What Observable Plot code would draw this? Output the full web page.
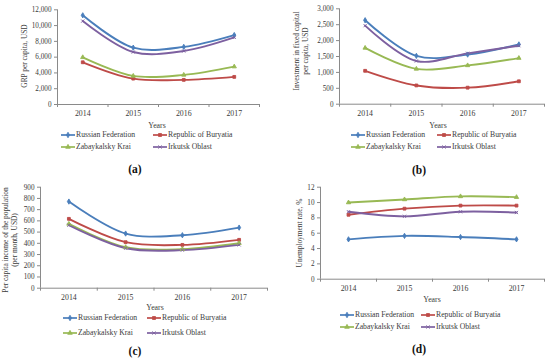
<!DOCTYPE html>
<html><head><meta charset="utf-8">
<script src="https://cdn.jsdelivr.net/npm/d3@7"></script>
<script src="https://cdn.jsdelivr.net/npm/@observablehq/plot@0.6"></script>
<style>
body{margin:0;background:#fff;}
#root{position:relative;width:550px;height:359px;overflow:hidden;font-family:"Liberation Serif","Times New Roman",serif;color:#333;background:#fff}
.abs{position:absolute;white-space:nowrap;line-height:1;font-family:"Liberation Serif","Times New Roman",serif}
</style></head><body><div id="root"></div>
<script>
const years = [2014, 2015, 2016, 2017];
const regions = ["Russian Federation", "Republic of Buryatia", "Zabaykalsky Krai", "Irkutsk Oblast"];
const colors = ["#4A7EBB", "#BE4B48", "#98B954", "#7D60A0"];
const symbols = ["diamond", "square", "triangle", "times"];

// (a) GRP per capita, USD
const grpRF = [11300, 7200, 7300, 8800];
const grpBuryatia = [5350, 3280, 3120, 3500];
const grpZabaykalsky = [5980, 3620, 3750, 4800];
const grpIrkutsk = [10570, 6650, 6780, 8500];
// (b) Investment in fixed capital per capita, USD
const invRF = [2640, 1520, 1560, 1880];
const invBuryatia = [1050, 590, 520, 720];
const invZabaykalsky = [1770, 1110, 1220, 1450];
const invIrkutsk = [2470, 1360, 1600, 1840];
// (c) Per capita income (per month, USD)
const incRF = [772, 487, 472, 540];
const incBuryatia = [618, 410, 386, 431];
const incZabaykalsky = [573, 365, 348, 401];
const incIrkutsk = [561, 356, 339, 386];
// (d) Unemployment rate, %
const unRF = [5.2, 5.65, 5.5, 5.2];
const unBuryatia = [8.4, 9.2, 9.6, 9.6];
const unZabaykalsky = [10.0, 10.4, 10.8, 10.7];
const unIrkutsk = [8.8, 8.2, 8.8, 8.7];

const yTicksA = [0, 2000, 4000, 6000, 8000, 10000, 12000];
const yTicksB = [0, 500, 1000, 1500, 2000, 2500, 3000];
const yTicksC = [0, 100, 200, 300, 400, 500, 600, 700, 800, 900];
const yTicksD = [0, 2, 4, 6, 8, 10, 12];

const titleA = ["GRP per capita, USD"];
const titleB = ["Investment in fixed capital", "per capita, USD"];
const titleC = ["Per capita income of the population", "(per month, USD)"];
const titleD = ["Unemployment rate, %"];
const xTitle = "Years";
const labels = ["(a)", "(b)", "(c)", "(d)"];

const panels = [
  {series: [grpRF, grpBuryatia, grpZabaykalsky, grpIrkutsk], ticks: yTicksA, title: titleA, label: labels[0],
   left: 0, top: 0, ax: 57, aTop: 9.3, aZero: 104, aRight: 259, titleX: 25, titleY: 56, yearsX: 157, yearsY: 126,
   legY: [135, 147], legX: [61, 153], labX: 135, labY: 170},
  {series: [invRF, invBuryatia, invZabaykalsky, invIrkutsk], ticks: yTicksB, title: titleB, label: labels[1],
   left: 275, top: 0, ax: 339, aTop: 8.3, aZero: 103.7, aRight: 544, titleX: 302, titleY: 51, yearsX: 438, yearsY: 126,
   legY: [135, 147], legX: [351, 437], labX: 419, labY: 171},
  {series: [incRF, incBuryatia, incZabaykalsky, incIrkutsk], ticks: yTicksC, title: titleC, label: labels[2],
   left: 0, top: 180, ax: 40, aTop: 186.7, aZero: 287.7, aRight: 267, titleX: 11, titleY: 240, yearsX: 155, yearsY: 308,
   legY: [318, 333], legX: [63, 147], labX: 135, labY: 352},
  {series: [unRF, unBuryatia, unZabaykalsky, unIrkutsk], ticks: yTicksD, title: titleD, label: labels[3],
   left: 275, top: 180, ax: 320, aTop: 186.7, aZero: 278.7, aRight: 544, titleX: 300, titleY: 233, yearsX: 432, yearsY: 300,
   legY: [315, 327], legX: [340, 421], labX: 419, labY: 350}
];

const root = document.getElementById("root");
const axisColor = "#8a8a8a";
const textColor = "#3a3a3a";

function addText(txt, x, y, style) {
  const d = document.createElement("div");
  d.className = "abs";
  d.textContent = txt;
  d.style.left = x + "px";
  d.style.top = y + "px";
  Object.assign(d.style, style || {});
  root.appendChild(d);
  return d;
}

function legendItem(i, x, y) {
  const ns = "http://www.w3.org/2000/svg";
  const s = document.createElementNS(ns, "svg");
  s.setAttribute("width", 16); s.setAttribute("height", 8);
  s.style.position = "absolute"; s.style.left = x + "px"; s.style.top = (y - 4) + "px";
  const l = document.createElementNS(ns, "line");
  l.setAttribute("x1", 0); l.setAttribute("x2", 14); l.setAttribute("y1", 4); l.setAttribute("y2", 4);
  l.setAttribute("stroke", colors[i]); l.setAttribute("stroke-width", 1.7);
  s.appendChild(l);
  const symMap = {diamond: d3.symbolDiamond, square: d3.symbolSquare, triangle: d3.symbolTriangle, times: d3.symbolTimes};
  const p = document.createElementNS(ns, "path");
  p.setAttribute("d", d3.symbol(symMap[symbols[i]], 9)());
  p.setAttribute("transform", "translate(7,4)");
  p.setAttribute("fill", colors[i]); p.setAttribute("stroke", colors[i]); p.setAttribute("stroke-width", 0.8);
  s.appendChild(p);
  root.appendChild(s);
  addText(regions[i], x + 15, y - 4.2, {fontSize: "7.7px", color: textColor});
}

panels.forEach(P => {
  const data = [];
  P.series.forEach((vals, si) => vals.forEach((v, k) => data.push({region: regions[si], year: years[k], value: v})));
  const height = Math.round(P.aZero - P.top + 16);
  const chart = Plot.plot({
    width: 275,
    height,
    marginLeft: P.ax - P.left,
    marginRight: P.left + 275 - P.aRight,
    marginTop: P.aTop - P.top,
    marginBottom: height - (P.aZero - P.top),
    style: {fontFamily: "'Liberation Serif', 'Times New Roman', serif", fontSize: "7px", color: textColor, background: "transparent"},
    x: {type: "linear", domain: [2013.5, 2017.5]},
    y: {domain: [P.ticks[0], P.ticks[P.ticks.length - 1]]},
    color: {domain: regions, range: colors},
    symbol: {domain: regions, range: symbols},
    marks: [
      Plot.ruleY([P.ticks[0]], {stroke: axisColor, strokeWidth: 1}),
      Plot.ruleX([2013.5], {stroke: axisColor, strokeWidth: 1}),
      Plot.axisY({ticks: P.ticks, tickSize: 3, tickPadding: 3, tickFormat: d3.format(","), stroke: axisColor, fill: textColor, label: null, fontSize: 7.2}),
      Plot.axisX({ticks: [2013.5, 2014.5, 2015.5, 2016.5, 2017.5], tickSize: 3, tickFormat: () => "", stroke: axisColor, label: null}),
      Plot.axisX({ticks: years, tickSize: 0, tickPadding: 6, tickFormat: d => String(d), fill: textColor, label: null, fontSize: 7.8}),
      Plot.lineY(data, {x: "year", y: "value", z: "region", stroke: "region", curve: "catmull-rom", strokeWidth: 1.9}),
      Plot.dot(data, {x: "year", y: "value", symbol: "region", stroke: "region", fill: "region", r: 1.6, strokeWidth: 0.9})
    ]
  });
  chart.style.position = "absolute";
  chart.style.left = P.left + "px";
  chart.style.top = P.top + "px";
  root.appendChild(chart);

  const t = document.createElement("div");
  t.className = "abs";
  t.style.left = P.titleX + "px";
  t.style.top = P.titleY + "px";
  t.style.transform = "translate(-50%,-50%) rotate(-90deg)";
  t.style.textAlign = "center";
  t.style.fontSize = "7.4px";
  t.style.lineHeight = "1.15";
  t.style.color = textColor;
  t.innerHTML = P.title.join("<br>");
  root.appendChild(t);

  addText(xTitle, P.yearsX, P.yearsY, {fontSize: "7.8px", color: textColor, transform: "translate(-50%,-50%)"});
  legendItem(0, P.legX[0], P.legY[0]);
  legendItem(1, P.legX[1], P.legY[0]);
  legendItem(2, P.legX[0], P.legY[1]);
  legendItem(3, P.legX[1], P.legY[1]);
  addText(P.label, P.labX, P.labY, {fontSize: "11.5px", fontWeight: "bold", color: "#111", transform: "translate(-50%,-50%)"});
});
</script></body></html>
